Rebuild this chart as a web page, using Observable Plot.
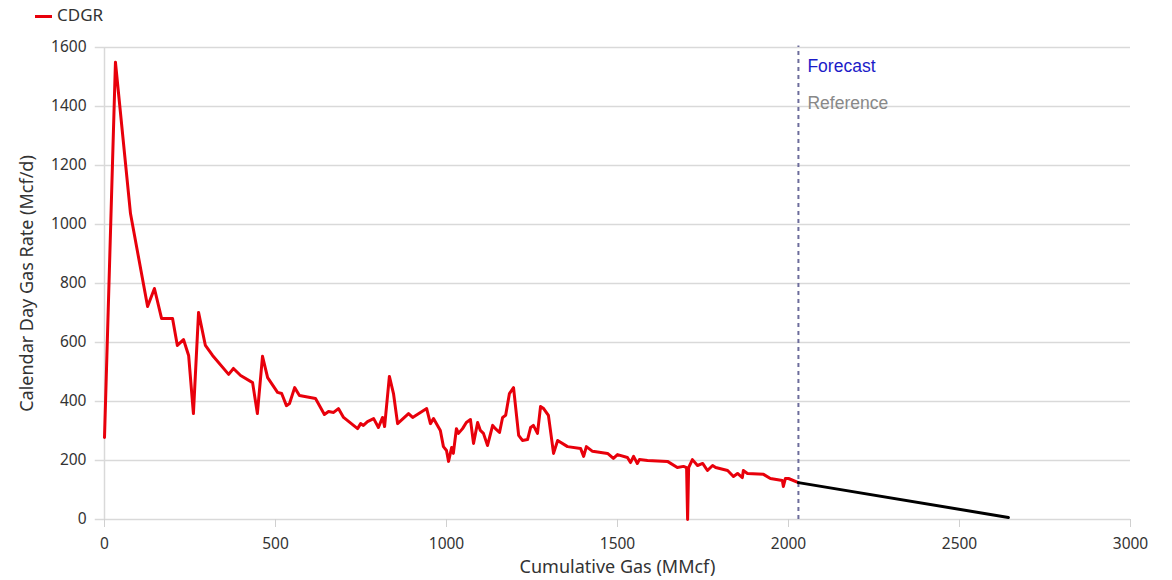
<!DOCTYPE html>
<html>
<head>
<meta charset="utf-8">
<script src="https://cdn.jsdelivr.net/npm/d3@7"></script>
<script src="https://cdn.jsdelivr.net/npm/@observablehq/plot@0.6"></script>
<style>
  body { margin: 0; background: #fff; font-family: "Noto Sans", "Open Sans", sans-serif; }
  #legend { height: 30px; position: relative; }
  #legend .sw { position: absolute; left: 35px; top: 15px; width: 17px; height: 3px; background: #e8000b; }
  #legend .lb { position: absolute; left: 57px; top: 3px; font-size: 17px; color: #333; }
</style>
</head>
<body>
<div id="legend"><span class="sw"></span><span class="lb">CDGR</span></div>
<div id="chart"></div>
<script>
// Historical CDGR (cumulative gas MMcf, rate Mcf/d)
const cumGas = [0,32,76,126,146,167,199,213,231,246,260,275,295,316,363,377,398,433,447,462,477,506,518,532,541,556,570,617,643,655,670,684,699,740,749,757,769,787,801,813,819,833,845,857,889,901,942,953,962,982,991,1000,1006,1015,1020,1029,1035,1047,1058,1070,1079,1091,1099,1108,1120,1135,1143,1155,1164,1173,1184,1196,1211,1222,1237,1246,1254,1266,1275,1284,1298,1313,1325,1354,1392,1401,1409,1427,1471,1488,1500,1529,1538,1547,1558,1564,1588,1646,1675,1693,1702,1705,1708,1719,1734,1749,1763,1778,1787,1822,1839,1851,1865,1868,1880,1927,1947,1982,1985,1991,2000,2029];
const cdgr = [278,1550,1037,722,783,681,681,590,610,556,359,702,590,556,492,512,488,464,359,553,481,431,427,386,393,447,420,410,356,366,363,376,346,308,325,319,332,342,312,346,315,485,427,325,359,346,376,325,342,302,247,234,197,244,224,308,292,308,329,339,258,329,302,292,251,319,308,295,346,353,427,447,285,268,271,312,319,292,383,376,353,224,268,247,241,214,247,231,224,207,220,210,193,214,190,203,200,197,176,180,176,0,176,203,183,190,166,183,176,166,146,156,142,166,156,153,139,132,112,139,139,125];
// Forecast segment
const fcGas = [2029, 2643];
const fcRate = [125, 7];
const forecastStart = 2029;
const labels = ["Forecast", "Reference"];
const labelY = [1536, 1410];
const xTicks = [0, 500, 1000, 1500, 2000, 2500, 3000];
const yTicks = [0, 200, 400, 600, 800, 1000, 1200, 1400, 1600];

const hist = cumGas.map((x, i) => ({x, y: cdgr[i]}));
const fc = fcGas.map((x, i) => ({x, y: fcRate[i]}));
const lab = labels.map((t, i) => ({t, y: labelY[i], x: forecastStart}));

const chart = Plot.plot({
  width: 1172,
  height: 550,
  marginTop: 17,
  marginBottom: 61,
  marginLeft: 104,
  marginRight: 42,
  style: {fontFamily: "Noto Sans, Open Sans, sans-serif", fontSize: "15px", color: "#333"},
  x: {domain: [0, 3000], ticks: xTicks, tickFormat: d => String(d), label: null},
  y: {domain: [0, 1600], ticks: yTicks, tickFormat: d => String(d), label: null},
  marks: [
    Plot.ruleY(yTicks, {y: d => d, x1: -27, x2: 3000, stroke: "#d9d9d9", strokeWidth: 1.5, clip: false}),
    Plot.ruleX([0], {y1: 0, y2: 1600, stroke: "#d9d9d9", strokeWidth: 1.5}),
    Plot.axisX({ticks: xTicks, tickFormat: d => String(d), tickSize: 8, tickPadding: 10, stroke: "#d0d0d0", fill: "#333", fontSize: 15.5, label: null}),
    Plot.axisY({ticks: yTicks, tickFormat: d => String(d), tickSize: 0, tickPadding: 18, fill: "#333", fontSize: 15.5, label: null}),
    Plot.ruleX([forecastStart], {y1: 0, y2: 1605, stroke: "#6d6d9c", strokeWidth: 2, strokeDasharray: "4,4"}),
    Plot.text(lab.slice(0,1), {x: "x", y: "y", text: "t", dx: 9, textAnchor: "start", fill: "#1b1bc8", fontSize: 17.5, fontFamily: "Liberation Sans, Arial, sans-serif"}),
    Plot.text(lab.slice(1), {x: "x", y: "y", text: "t", dx: 9, textAnchor: "start", fill: "#888", fontSize: 17.5, fontFamily: "Liberation Sans, Arial, sans-serif"}),
    Plot.line(hist, {x: "x", y: "y", stroke: "#e8000b", strokeWidth: 3, strokeLinejoin: "round"}),
    Plot.line(fc, {x: "x", y: "y", stroke: "#000", strokeWidth: 3}),
    Plot.text(["Calendar Day Gas Rate (Mcf/d)"], {frameAnchor: "left", dx: -77, rotate: -90, textAnchor: "middle", text: d => d, fontSize: 18, fill: "#333"}),
    Plot.text(["Cumulative Gas (MMcf)"], {frameAnchor: "bottom", dy: 53, textAnchor: "middle", text: d => d, fontSize: 18, fill: "#333"})
  ]
});
document.getElementById("chart").appendChild(chart);
</script>
</body>
</html>
